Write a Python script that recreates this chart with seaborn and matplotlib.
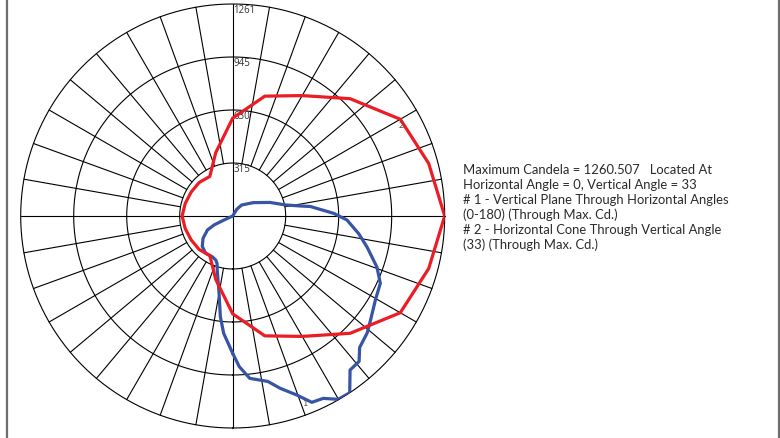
import numpy as np
import pandas as pd
import matplotlib
matplotlib.use("Agg")
import matplotlib.pyplot as plt
from matplotlib.lines import Line2D
import seaborn as sns

# ---------------- data ----------------
ring_values = [315.25, 630.5, 945.75, 1261]
ring_labels = ["315", "630", "945", "1261"]
r_max = 1261

# Curve #2 : horizontal cone through vertical angle 33 (horizontal angle, candela)
red_h_angle = [0, 15, 30, 45, 60, 75, 90, 105, 120, 135, 150, 165, 180,
               195, 210, 225, 240, 255, 270, 285, 300, 315, 330, 345, 360]
red_candela = [1261, 1207, 1151, 987, 827, 738, 582, 390, 272, 282, 285, 292, 301,
               292, 285, 282, 272, 390, 582, 738, 827, 987, 1151, 1207, 1261]

# Curve #1 : vertical plane through horizontal angles 0-180 (angle from nadir, candela)
blue_v_angle = [0, 2.5, 6, 12, 15.4, 19.7, 23, 26.4, 29.9, 33.5, 37.3, 41, 44, 49, 53,
                59.5, 65.5, 70.5, 77, 82, 88, 91.5, 97, 98.5, 102, 110, 123, 141, 149,
                180, 288, 294.7, 295.7, 299, 307, 315, 324, 333.5, 339, 341.7, 344,
                350, 353, 355.6, 360]
blue_candela = [817, 897, 971, 1006, 1063, 1131, 1204, 1211, 1258, 1261, 1152, 1146, 1087,
                1060, 1027, 985, 965, 910, 820, 757, 680, 601, 465, 404, 318, 236, 146,
                84, 46, 0, 0, 57, 123, 172, 221, 256, 274, 271, 281, 297, 334,
                467, 603, 700, 817]

info_lines = [
    "Maximum Candela = 1260.507   Located At",
    "Horizontal Angle = 0, Vertical Angle = 33",
    "# 1 - Vertical Plane Through Horizontal Angles",
    "(0-180) (Through Max. Cd.)",
    "# 2 - Horizontal Cone Through Vertical Angle",
    "(33) (Through Max. Cd.)",
]

# ---------------- styling ----------------
sns.set_style("white")
plt.rcParams["font.family"] = ["Lato", "DejaVu Sans"]

W, H, DPI = 780, 438, 100
fig = plt.figure(figsize=(W / DPI, H / DPI), dpi=DPI)
fig.patch.set_facecolor("white")

cx, cy, R = 232.7, 216.0, 212.0
ax = fig.add_axes([(cx - R) / W, (H - cy - R) / H, 2 * R / W, 2 * R / H],
                  projection="polar")
ax.set_theta_zero_location("S")
ax.set_theta_direction(1)
ax.set_ylim(0, r_max)
ax.grid(False)
ax.set_xticks([])
ax.set_yticks([])
ax.spines["polar"].set_visible(False)
ax.patch.set_alpha(0)

grid_kw = dict(color="black", lw=0.8, clip_on=False, zorder=1)
circ = np.linspace(0, 2 * np.pi, 721)
for rv in ring_values:
    ax.plot(circ, np.full_like(circ, rv), **grid_kw)
for a in range(0, 360, 10):
    t = np.radians(a)
    if a % 90 == 0:
        ax.plot([t, t], [0, r_max], **grid_kw)
    else:
        ax.plot([t, t], [ring_values[0], r_max], **grid_kw)

for rv, lab in zip(ring_values, ring_labels):
    ax.annotate(lab, xy=(np.pi, rv), xytext=(0.5, -0.8), textcoords="offset points",
                ha="left", va="top", fontsize=7, color="#333333", zorder=2,
                family=["Open Sans", "DejaVu Sans"])

# ---------------- curves ----------------
red_df = pd.DataFrame({"theta": np.radians(np.array(red_h_angle) + 90.0),
                       "cd": red_candela})
blue_df = pd.DataFrame({"theta": np.radians(blue_v_angle), "cd": blue_candela})

sns.lineplot(data=red_df, x="theta", y="cd", sort=False, estimator=None,
             color="#EC1C24", lw=2.3, ax=ax, zorder=4)
sns.lineplot(data=blue_df, x="theta", y="cd", sort=False, estimator=None,
             color="#3754A5", lw=2.3, ax=ax, zorder=3)
ax.set_xlabel("")
ax.set_ylabel("")
ax.set_ylim(0, r_max)
ax.set_xticks([])
ax.set_yticks([])

# curve labels
ax.annotate("2", xy=(np.radians(90 + 30), 1151), xytext=(-1, -1), textcoords="offset points",
            ha="left", va="top", fontsize=6.5, color="#555555", zorder=5)
ax.annotate("1", xy=(np.radians(19.7), 1131), xytext=(4, -3), textcoords="offset points",
            ha="left", va="top", fontsize=6.5, color="#555555", zorder=5)

# ---------------- info text ----------------
baselines = [174, 189, 204.3, 219.3, 234.3, 249.3]
for line, yb in zip(info_lines, baselines):
    fig.text(463.3 / W, 1 - yb / H, line, ha="left", va="baseline",
             fontsize=9.4, color="#2a2a2a")

# frame lines
fig.add_artist(Line2D([7 / W, 7 / W], [0, 1], transform=fig.transFigure,
                      color="#6e6e6e", lw=1.6))
fig.add_artist(Line2D([778.8 / W, 778.8 / W], [0, 1], transform=fig.transFigure,
                      color="#6e6e6e", lw=1.6))

fig.savefig("out.png", dpi=DPI, facecolor="white")
